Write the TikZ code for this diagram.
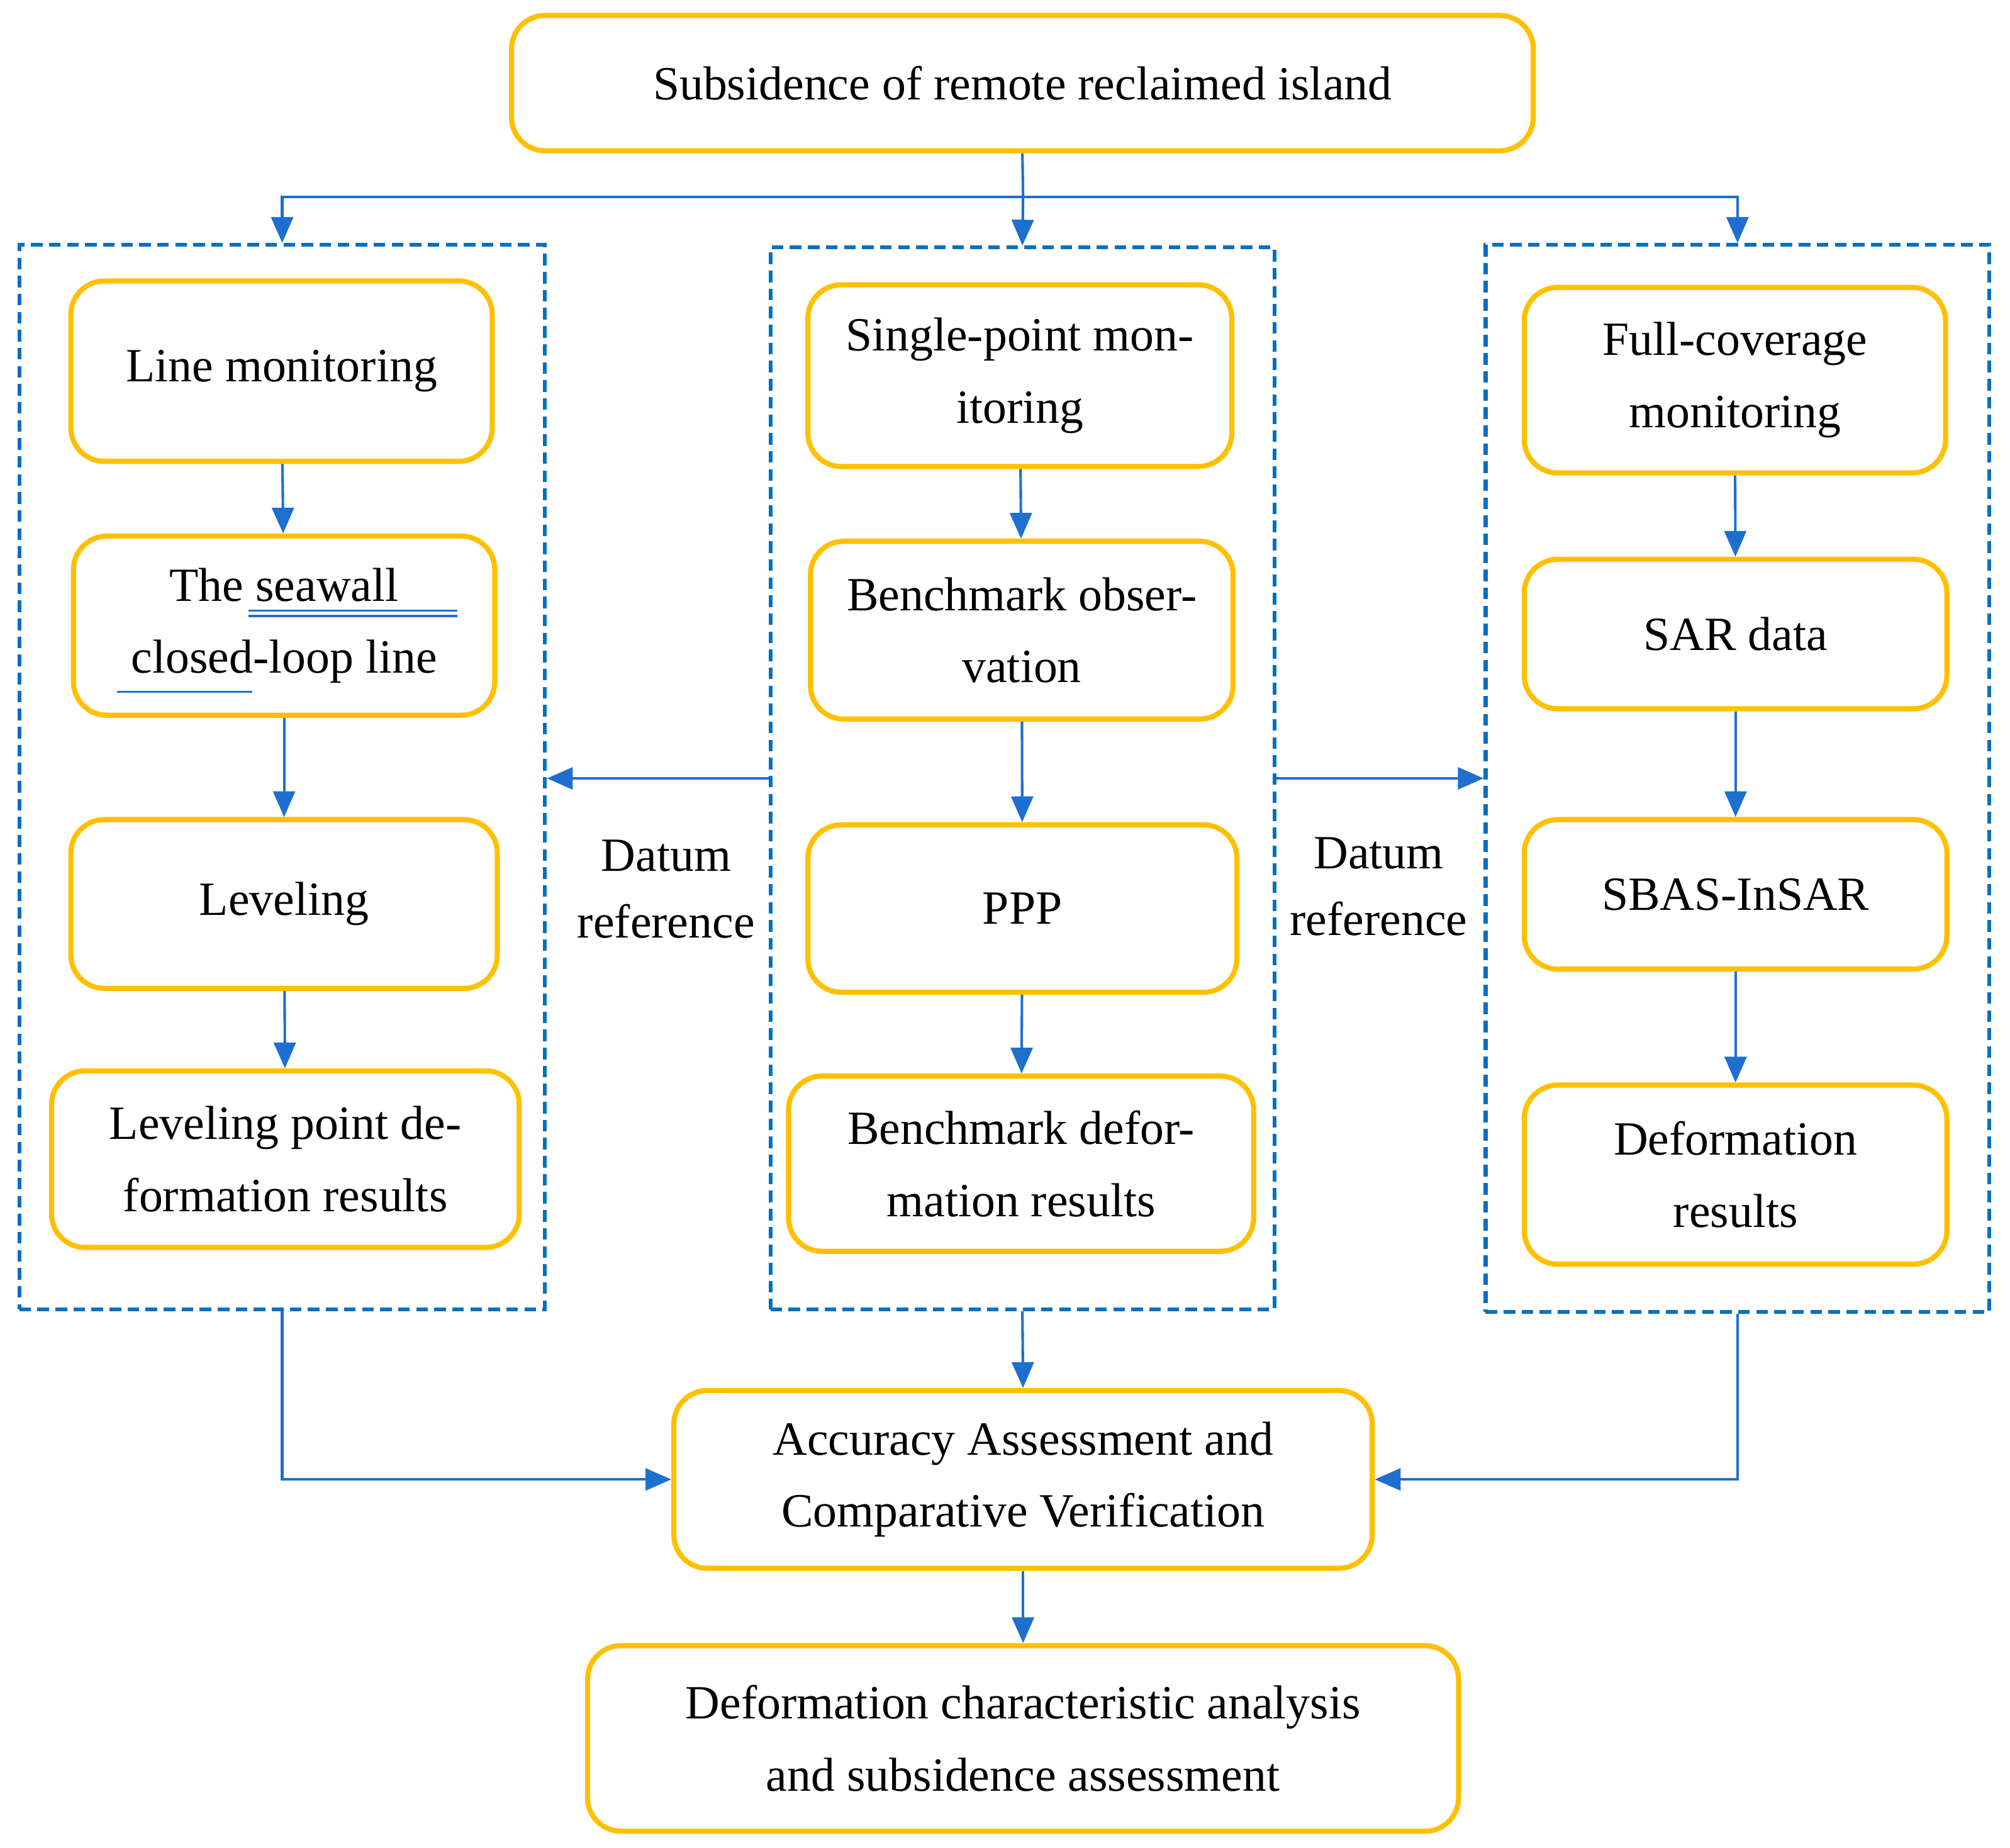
\documentclass[tikz,border=0pt]{standalone}
\usepackage{fontspec}
\setmainfont{Liberation Serif}
\usetikzlibrary{arrows.meta}
\definecolor{ybox}{HTML}{FFC000}
\definecolor{bdash}{HTML}{0070C0}
\definecolor{barr}{HTML}{1F6FCF}
\begin{document}
\begin{tikzpicture}[x=1pt,y=-1pt,
  box/.style={draw=ybox,line width=4pt,rounded corners=26pt,align=center,inner sep=0pt,font=\fontsize{37}{56}\selectfont},
  grp/.style={draw=bdash,line width=3pt,dash pattern=on 9pt off 5pt},
  arr/.style={draw=barr,line width=2pt,-{Triangle[length=20pt,width=17pt]}},
  lab/.style={align=center,font=\fontsize{37}{52}\selectfont}]
\useasboundingbox (0,0) rectangle (1560,1434);
\newcommand\bx[6]{\node[box,minimum width=#4-#2,minimum height=#5-#3] (#1) at ({(#2+#4)/2},{(#3+#5)/2}) {#6};}
\bx{top}{397}{12}{1190}{117}{Subsidence of remote reclaimed island}
\node[grp,minimum width=408,minimum height=826,inner sep=0pt] (L) at (219,603) {};
\node[grp,minimum width=391,minimum height=824,inner sep=0pt] (M) at (793.5,604) {};
\node[grp,minimum width=391,minimum height=828,inner sep=0pt] (R) at (1348.5,604) {};
\bx{l1}{55}{218}{382}{358}{Line monitoring}
\bx{l2}{57}{416}{384}{555}{The seawall\\closed-loop line}
\bx{l3}{55}{636}{386}{767}{Leveling}
\bx{l4}{40}{831}{403}{968}{Leveling point de-\\formation results}
\bx{m1}{627}{221}{956}{362}{Single-point mon-\\itoring}
\bx{m2}{629}{420}{957}{558}{Benchmark obser-\\vation}
\bx{m3}{627}{640}{960}{770}{PPP}
\bx{m4}{612}{835}{973}{971}{Benchmark defor-\\mation results}
\bx{r1}{1183}{223}{1510}{367}{Full-coverage\\monitoring}
\bx{r2}{1183}{434}{1511}{550}{SAR data}
\bx{r3}{1183}{636}{1511}{752}{SBAS-InSAR}
\bx{r4}{1183}{842}{1511}{981}{Deformation\\results}
\bx{acc}{523}{1079}{1065}{1217}{Accuracy Assessment and\\Comparative Verification}
\bx{fin}{456}{1277}{1132}{1421}{Deformation characteristic analysis\\and subsidence assessment}
\node[lab] (d1) at (517,690) {Datum\\reference};
\node[lab] (d2) at (1070,688) {Datum\\reference};
% underlines
\draw[barr,line width=1.5pt] (193,474)--(355,474) (193,478)--(355,478) (91,537)--(196,537);
\coordinate (b) at (794,153);
\draw[barr,line width=2pt] (top.south)--(b);
\draw[arr] (b)--(M.north);
\draw[arr] (b)-|(L.north);
\draw[arr] (b)-|(R.north);
\foreach \a/\b in {l1/l2,l2/l3,l3/l4,m1/m2,m2/m3,m3/m4,r1/r2,r2/r3,r3/r4,acc/fin}{\draw[arr] (\a)--(\b);}
\draw[arr] (M.west |- 0,604)--(L.east |- 0,604);
\draw[arr] (M.east |- 0,604)--(R.west |- 0,604);
\draw[arr] (M.south)--(acc.north);
\draw[arr] (L.south)|-(acc.west);
\draw[arr] (R.south)|-(acc.east);
\end{tikzpicture}
\end{document}
